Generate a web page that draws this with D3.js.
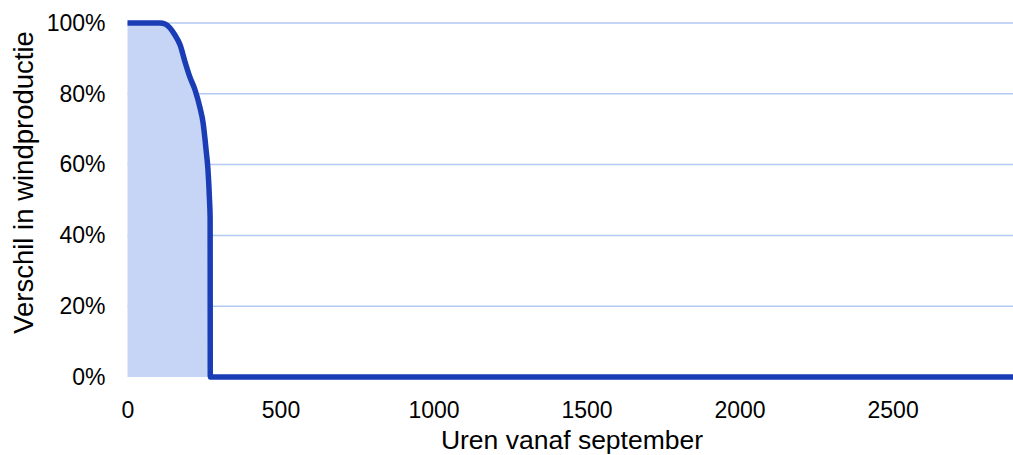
<!DOCTYPE html>
<html><head><meta charset="utf-8">
<script src="https://cdn.jsdelivr.net/npm/d3@7"></script>
<style>body{margin:0;background:#fff}svg{display:block}text{font-family:"Liberation Sans",Arial,sans-serif}</style>
</head><body><svg id="c" width="1013" height="455"></svg>
<script>
const hours = [0, 106, 123, 139, 155, 172, 188, 204, 221, 237, 247, 257, 263, 268, 270, 270.5, 2900];
const share = [1.00, 1.00, 0.997, 0.986, 0.966, 0.938, 0.89, 0.847, 0.81, 0.76, 0.718, 0.64, 0.585, 0.50, 0.45, 0, 0];
const xTicks = [0, 500, 1000, 1500, 2000, 2500];
const yTicks = [0, 0.2, 0.4, 0.6, 0.8, 1.0];
const xTitle = "Uren vanaf september";
const yTitle = "Verschil in windproductie";

const svg = d3.select("#c");
const x = d3.scaleLinear().domain([0, 2900]).range([127.5, 1015]);
const y = d3.scaleLinear().domain([0, 1]).range([377, 23]);
const data = hours.map((h, i) => ({h, v: share[i]}));

// gridlines
svg.append("g").selectAll("line").data(yTicks.filter(d => d > 0)).join("line")
  .attr("x1", x(0)).attr("x2", 1013).attr("y1", d => y(d)).attr("y2", d => y(d))
  .attr("stroke", "#b4c9f3").attr("stroke-width", 1.5);

// area
svg.append("path").datum(data)
  .attr("d", d3.area().x(d => x(d.h)).y0(y(0)).y1(d => y(d.v)).curve(d3.curveMonotoneX))
  .attr("fill", "#c6d5f6");

// line
svg.append("path").datum(data)
  .attr("d", d3.line().x(d => x(d.h)).y(d => y(d.v)).curve(d3.curveMonotoneX))
  .attr("fill", "none").attr("stroke", "#1a3db5").attr("stroke-width", 5.5).attr("stroke-linejoin", "round");

// axes
const yAxis = d3.axisLeft(y).tickValues(yTicks).tickFormat(d3.format(".0%")).tickSize(0).tickPadding(22);
const yg = svg.append("g").attr("transform", `translate(${x(0)},0)`).call(yAxis);
yg.select(".domain").remove();
yg.selectAll("text").attr("font-size", 23).attr("fill", "#000").attr("font-family", "Liberation Sans, Arial, sans-serif");

const xAxis = d3.axisBottom(x).tickValues(xTicks).tickFormat(d3.format("d")).tickSize(0).tickPadding(24.5);
const xg = svg.append("g").attr("transform", `translate(0,${y(0)})`).call(xAxis);
xg.select(".domain").remove();
xg.selectAll("text").attr("font-size", 23).attr("fill", "#000").attr("font-family", "Liberation Sans, Arial, sans-serif");

svg.append("text").attr("x", 572).attr("y", 448.5).attr("text-anchor", "middle")
  .attr("font-size", 26.5).text(xTitle);
svg.append("text").attr("transform", `translate(33,182.5) rotate(-90)`).attr("text-anchor", "middle")
  .attr("font-size", 27.5).text(yTitle);
</script></body></html>
